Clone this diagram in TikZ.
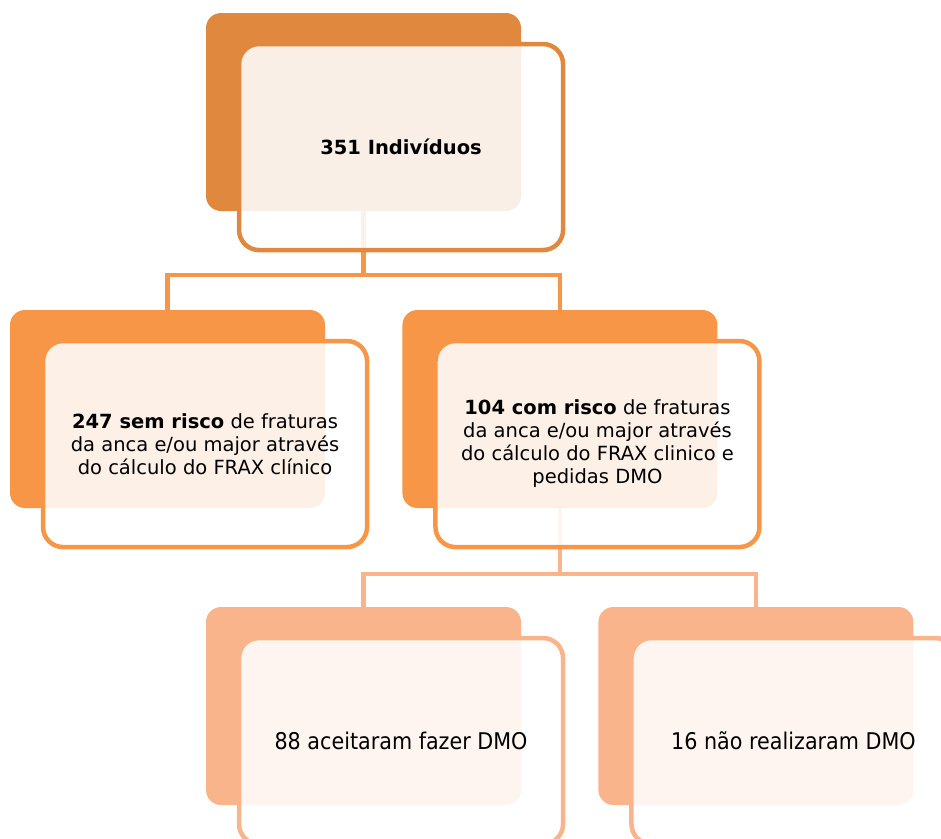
\documentclass[tikz,border=0pt]{standalone}
\usepackage{fontspec}
\setmainfont{DejaVu Sans}
\newfontfamily\narrowfont[FakeStretch=0.9]{DejaVu Sans}
\usepackage{xcolor}
\usepackage{tikz}
\usetikzlibrary{positioning}

\definecolor{orangeA}{RGB}{224,136,62}
\definecolor{orangeB}{RGB}{247,150,70}
\definecolor{orangeC}{RGB}{250,180,140}

\tikzset{
  backbox/.style={fill=#1, rounded corners=15pt, minimum width=315pt, minimum height=198pt, inner sep=0pt},
  frontbox/.style={draw=#1, line width=4.5pt, fill=white, fill opacity=0.87, text opacity=1, rounded corners=20pt, minimum width=324pt, minimum height=206pt, inner sep=0pt, align=center, anchor=north west, font=\fontsize{19.5}{23}\selectfont},
  conn/.style={draw=#1, line width=4.5pt},
}

\begin{document}
\begin{tikzpicture}[x=1pt, y=1pt]
\useasboundingbox (0,0) rectangle (941,-838);

% Back boxes
\node[backbox=orangeA] (topb) at (363.5,-112) {};
\node[backbox=orangeB] (semb) at (167.5,-409) {};
\node[backbox=orangeB, right=77pt of semb] (comb) {};
\node[backbox=orangeC] (aceb) at (363.5,-706) {};
\node[backbox=orangeC, right=77pt of aceb] (naob) {};

% Connectors
\draw[conn=orangeB] (topb.south) -- ++(0,-64) -| (semb.north);
\draw[conn=orangeB] (topb.south) -- ++(0,-64) -| (comb.north);
\draw[conn=orangeC] (comb.south) -- ++(0,-66) -| (aceb.north);
\draw[conn=orangeC] (comb.south) -- ++(0,-66) -| (naob.north);

% Front boxes with text
\node[frontbox=orangeA, font=\fontsize{19.5}{23}\selectfont] (topf) at ([shift={(31pt,-29pt)}]topb.north west) {\textbf{351 Indivíduos}};
\node[frontbox=orangeB] (semf) at ([shift={(31pt,-29pt)}]semb.north west) {\textbf{247 sem risco} de fraturas\\da anca e/ou major através\\do cálculo do FRAX clínico};
\node[frontbox=orangeB] (comf) at ([shift={(31pt,-29pt)}]comb.north west) {\textbf{104 com risco} de fraturas\\da anca e/ou major através\\do cálculo do FRAX clinico e\\pedidas DMO};
\node[frontbox=orangeC, font=\narrowfont\fontsize{23}{26}\selectfont] (acef) at ([shift={(31pt,-29pt)}]aceb.north west) {88 aceitaram fazer DMO};
\node[frontbox=orangeC, font=\narrowfont\fontsize{23}{26}\selectfont] (naof) at ([shift={(31pt,-29pt)}]naob.north west) {16 não realizaram DMO};

\end{tikzpicture}
\end{document}
